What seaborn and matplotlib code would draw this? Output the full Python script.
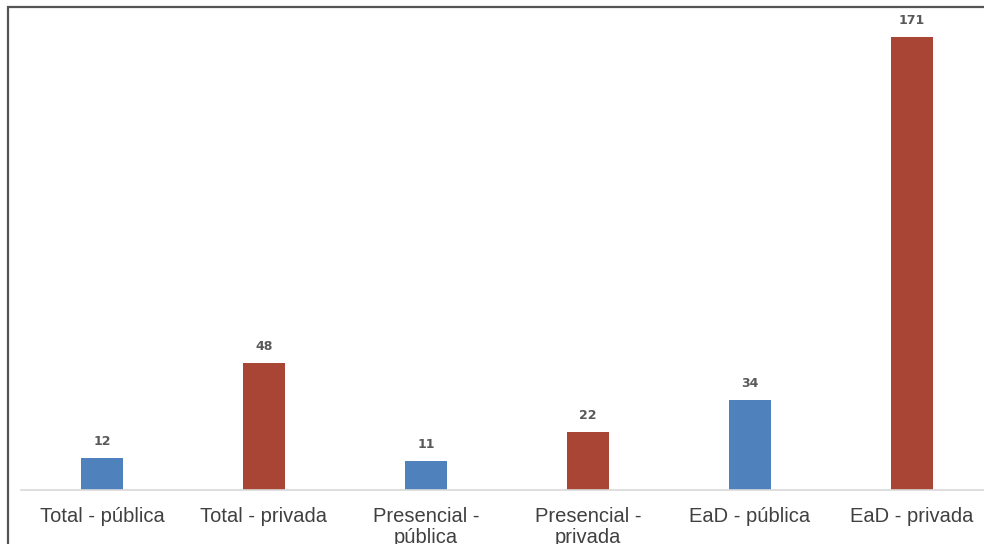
import matplotlib
matplotlib.use("Agg")
import matplotlib.pyplot as plt
from matplotlib.patches import Rectangle
import seaborn as sns
import pandas as pd

categorias = ["Total - pública", "Total - privada", "Presencial -\npública",
              "Presencial -\nprivada", "EaD - pública", "EaD - privada"]
valores = [12, 48, 11, 22, 34, 171]
cores = ["#4F81BD", "#A84535", "#4F81BD", "#A84535", "#4F81BD", "#A84535"]

sns.set_theme(style="white")
plt.rcParams["font.family"] = ["Liberation Sans", "DejaVu Sans"]

df = pd.DataFrame({"categoria": categorias, "valor": valores})

fig = plt.figure(figsize=(9.84, 5.44), dpi=100)
ax = fig.add_axes([21 / 984, 54 / 544, 972 / 984, 477 / 544])

sns.barplot(data=df, x="categoria", y="valor", hue="categoria",
            palette=cores, legend=False, width=0.26, ax=ax,
            edgecolor="none", saturation=1)

for cont in ax.containers:
    ax.bar_label(cont, padding=7, fontsize=9, fontweight="bold",
                 color="#595959", family="DejaVu Sans")

ax.set_xlim(-0.5, 5.5)
ax.set_ylim(0, 180)
ax.set_xlabel("")
ax.set_ylabel("")
ax.set_yticks([])
ax.tick_params(axis="x", length=0, pad=12, labelsize=14.5, labelcolor="#404040")
for lbl in ax.get_xticklabels():
    lbl.set_linespacing(1.15)
for side in ["top", "right", "left"]:
    ax.spines[side].set_visible(False)
ax.spines["bottom"].set_color("#D9D9D9")
ax.spines["bottom"].set_linewidth(1.2)

# outer frame around the chart area
fig.patches.append(Rectangle((8 / 984, -0.1), 1.1, (544 - 7) / 544 + 0.1,
                             transform=fig.transFigure, fill=False,
                             edgecolor="#555555", linewidth=1.6))

fig.savefig("out.png", dpi=100)
